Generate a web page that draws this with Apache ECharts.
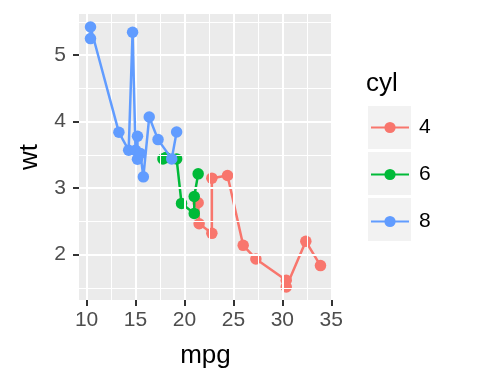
<!DOCTYPE html>
<html>
<head>
<meta charset="utf-8">
<script src="https://cdn.jsdelivr.net/npm/echarts@6/dist/echarts.min.js"></script>
<style>html,body{margin:0;padding:0;background:#fff}#c{width:480px;height:384px}</style>
</head>
<body>
<div id="c"></div>
<script>
// mtcars: mpg, wt, cyl (original row order)
const mpg = [21.0,21.0,22.8,21.4,18.7,18.1,14.3,24.4,22.8,19.2,17.8,16.4,17.3,15.2,10.4,10.4,14.7,32.4,30.4,33.9,21.5,15.5,15.2,13.3,19.2,27.3,26.0,30.4,15.8,19.7,15.0,21.4];
const wt = [2.620,2.875,2.320,3.215,3.440,3.460,3.570,3.190,3.150,3.440,3.440,4.070,3.730,3.780,5.250,5.424,5.345,2.200,1.615,1.835,2.465,3.520,3.435,3.840,3.845,1.935,2.140,1.513,3.170,2.770,3.570,2.780];
const cyl = [6,6,4,6,8,6,8,4,4,6,6,8,8,8,8,8,8,4,4,4,4,8,8,8,8,4,4,4,8,6,8,4];
const groups = ['4','6','8'];
const colors = ['#F8766D','#00BA38','#619CFF'];
const xTicks = [10,15,20,25,30,35];
const yTicks = [2,3,4,5];
const xMinor = [12.5,17.5,22.5,27.5,32.5];
const yMinor = [1.5,2.5,3.5,4.5,5.5];

const xr = [Math.min(...mpg), Math.max(...mpg)];
const yr = [Math.min(...wt), Math.max(...wt)];
const xpad = (xr[1]-xr[0])*0.05, ypad = (yr[1]-yr[0])*0.05;
const xMin = xr[0]-xpad, xMax = xr[1]+xpad, yMin = yr[0]-ypad, yMax = yr[1]+ypad;

const FONT = '"Liberation Sans", Arial, sans-serif';

function groupData(g){
  const pts = [];
  for (let i=0;i<mpg.length;i++) if (String(cyl[i])===g) pts.push({x:mpg[i], y:wt[i], i:i});
  pts.sort((a,b)=> a.x-b.x || a.i-b.i);
  return pts.map(p=>[p.x,p.y]);
}

const gridLines = [];
xTicks.forEach(v=>gridLines.push({xAxis:v, lineStyle:{width:2}}));
yTicks.forEach(v=>gridLines.push({yAxis:v, lineStyle:{width:2}}));
xMinor.forEach(v=>gridLines.push({xAxis:v, lineStyle:{width:1}}));
yMinor.forEach(v=>gridLines.push({yAxis:v, lineStyle:{width:1}}));

const series = [{
  type:'line', name:'_grid', data:[], silent:true, z:1,
  markLine:{silent:true, symbol:['none','none'], label:{show:false}, animation:false,
    lineStyle:{color:'#ffffff', type:'solid'}, data:gridLines}
}];
groups.forEach((g,k)=>{
  series.push({
    type:'line', name:g, data:groupData(g), z:3+k,
    symbol:'circle', symbolSize:11.5, showAllSymbol:true,
    lineStyle:{color:colors[k], width:2.5},
    itemStyle:{color:colors[k]},
    emphasis:{disabled:true}
  });
});

const chart = echarts.init(document.getElementById('c'));
chart.setOption({
  animation:false,
  backgroundColor:'#ffffff',
  grid:{left:79, right:148, top:14, bottom:84, show:true, backgroundColor:'#EBEBEB', borderWidth:0},
  xAxis:{type:'value', min:xMin, max:xMax,
    name:'mpg', nameLocation:'middle', nameGap:43,
    nameTextStyle:{fontFamily:FONT, fontSize:26, color:'#000'},
    axisLine:{show:false}, splitLine:{show:false},
    axisTick:{show:true, length:6, customValues:xTicks, lineStyle:{color:'#333333', width:2}},
    axisLabel:{customValues:xTicks, fontFamily:FONT, fontSize:21, color:'#4D4D4D', margin:10}
  },
  yAxis:{type:'value', min:yMin, max:yMax,
    name:'wt', nameLocation:'middle', nameGap:36, nameRotate:90,
    nameTextStyle:{fontFamily:FONT, fontSize:26, color:'#000'},
    axisLine:{show:false}, splitLine:{show:false},
    axisTick:{show:true, length:6, customValues:yTicks, lineStyle:{color:'#333333', width:2}},
    axisLabel:{customValues:yTicks, fontFamily:FONT, fontSize:21, color:'#4D4D4D', margin:13}
  },
  legend:{data:groups, orient:'vertical', left:370, top:117, padding:0, itemWidth:38, itemHeight:14, itemGap:26,
    textStyle:{fontFamily:FONT, fontSize:21, lineHeight:20, color:'#000', padding:[0,0,0,5]}, selectedMode:false},
  graphic:[
    {type:'text', x:366, y:84, style:{text:'cyl', font:'26px "Liberation Sans", Arial, sans-serif', fill:'#000', verticalAlign:'middle'}},
    {type:'rect', left:368, top:106, z:-1, shape:{width:43, height:43}, style:{fill:'#F2F2F2'}},
    {type:'rect', left:368, top:152, z:-1, shape:{width:43, height:43}, style:{fill:'#F2F2F2'}},
    {type:'rect', left:368, top:198, z:-1, shape:{width:43, height:43}, style:{fill:'#F2F2F2'}}
  ],
  series:series
});
</script>
</body>
</html>
